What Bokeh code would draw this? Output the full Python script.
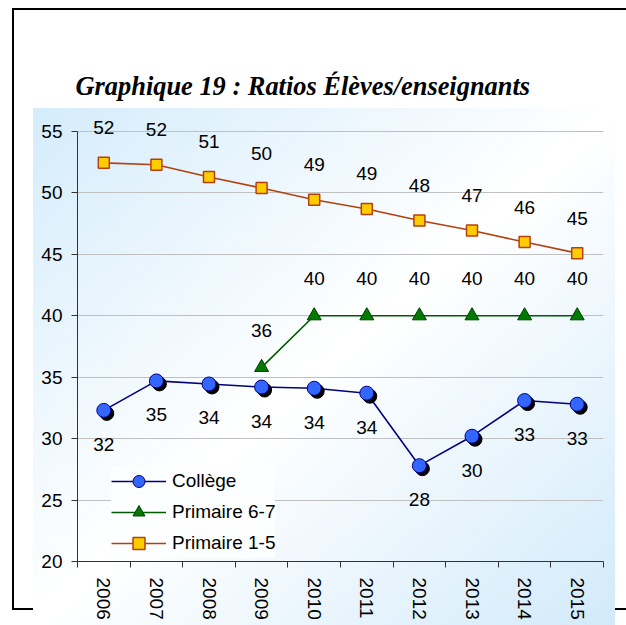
from bokeh.plotting import figure
from bokeh.models import Range1d, FixedTicker, ColumnDataSource, Legend, LegendItem
from bokeh.embed import file_html
from bokeh.resources import INLINE
from bokeh.core.properties import value

years = ["2006", "2007", "2008", "2009", "2010", "2011", "2012", "2013", "2014", "2015"]
college = [32.3, 34.7, 34.45, 34.2, 34.1, 33.7, 27.8, 30.2, 33.1, 32.8]
primaire_67_years = ["2009", "2010", "2011", "2012", "2013", "2014", "2015"]
primaire_67 = [35.8, 40.0, 40.0, 40.0, 40.0, 40.0, 40.0]
primaire_15 = [52.45, 52.3, 51.3, 50.4, 49.45, 48.7, 47.76, 46.94, 46.0, 45.1]
y_ticks = [20, 25, 30, 35, 40, 45, 50, 55]

FONT = "Liberation Sans"
FS = "19px"

def src(cats, vals):
    xs = [years.index(c) for c in cats]
    return ColumnDataSource(dict(x=xs, y=vals, lab=[f"{v:.0f}" for v in vals]))

# page decoration: light-blue gradient panel over an open black frame (top, left, bottom)
css_bg = (
    "linear-gradient(to bottom right, #D4ECFB 0%, #FFFFFF 50%, #D2EAFA 100%) 33px 108px / 582px 517px no-repeat, "
    "linear-gradient(#000000, #000000) 600px 8px / 26px 2px no-repeat, "
    "linear-gradient(#000000, #000000) 600px 608px / 26px 2px no-repeat, "
    "linear-gradient(#FFFFFF, #FFFFFF) 14px 10px / 600px 598px no-repeat, "
    "linear-gradient(#000000, #000000) 12px 8px / 596px 602px no-repeat, "
    "#FFFFFF"
)
no_scroll_css = (
    ":host { overflow: hidden !important; scrollbar-width: none !important; } "
    "* { scrollbar-width: none !important; } "
    "::-webkit-scrollbar { display: none !important; width: 0 !important; height: 0 !important; }"
)

p = figure(width=626, height=625,
           x_range=Range1d(-0.5, 9.5), y_range=Range1d(20, 56.63),
           output_backend="svg", toolbar_location=None,
           min_border_left=77, min_border_right=23, min_border_top=111, min_border_bottom=64,
           border_fill_color=None, background_fill_color=None, outline_line_color=None,
           title="Graphique 19 : Ratios Élèves/enseignants",
           styles={"background": css_bg, "overflow": "hidden"},
           stylesheets=[no_scroll_css])

p.title.text_font = "Liberation Serif"
p.title.text_font_style = "bold italic"
p.title.text_font_size = "26.4px"
p.title.text_color = "#000000"
p.title.align = "left"
p.title.offset = -2
p.title.standoff = 22

# axes
p.yaxis.ticker = FixedTicker(ticks=y_ticks)
p.yaxis.bounds = (20, 55)
p.xaxis.ticker = FixedTicker(ticks=list(range(len(years))),
                             minor_ticks=[i - 0.5 for i in range(len(years) + 1)])
p.xaxis.major_label_overrides = {i: y for i, y in enumerate(years)}
p.xaxis.major_label_orientation = "vertical"
p.xaxis.major_tick_out = 0
p.xaxis.major_tick_in = 0
p.xaxis.minor_tick_out = 6
p.xaxis.minor_tick_in = 0
p.xaxis.major_label_standoff = 10
p.yaxis.major_tick_out = 6
p.yaxis.major_tick_in = 0
p.yaxis.minor_tick_out = 0
p.yaxis.minor_tick_in = 0
p.yaxis.major_label_standoff = 9
for ax in (p.xaxis, p.yaxis):
    ax.axis_line_color = "#333333"
    ax.major_tick_line_color = "#333333"
    ax.minor_tick_line_color = "#333333"
    ax.major_label_text_font = FONT
    ax.major_label_text_font_size = FS
    ax.major_label_text_color = "#000000"

p.xgrid.visible = False
p.ygrid.grid_line_color = "#C0C0C0"
p.ygrid.grid_line_width = 1

s15 = src(years, primaire_15)
s67 = src(primaire_67_years, primaire_67)
sc = src(years, college)

# Primaire 1-5
l15 = p.line("x", "y", source=s15, line_color="#B5400F", line_width=1.6)
m15 = p.scatter("x", "y", source=s15, marker="square", size=11,
                fill_color="#FFCC00", line_color="#B5400F", line_width=1.5)
# Primaire 6-7
l67 = p.line("x", "y", source=s67, line_color="#005A00", line_width=1.6)
m67 = p.scatter("x", "y", source=s67, marker="triangle", size=14,
                fill_color="#007A00", line_color="#004000", line_width=1)
# College
lc = p.line("x", "y", source=sc, line_color="#000080", line_width=1.6)
shadow = ColumnDataSource(dict(x=[v + 0.057 for v in sc.data["x"]],
                               y=[v - 0.244 for v in sc.data["y"]]))
p.scatter("x", "y", source=shadow, marker="circle", size=14,
          fill_color="#000000", line_color="#000000")
mc = p.scatter("x", "y", source=sc, marker="circle", size=14,
               fill_color="#3366FF", line_color="#000080", line_width=1)

for s, off in ((s15, -35), (s67, -37), (sc, 34)):
    p.text("x", "y", text="lab", source=s, text_align="center", text_baseline="middle",
           y_offset=off, text_font=value(FONT), text_font_size=FS, text_color="#000000")

legend = Legend(items=[LegendItem(label="Collège", renderers=[lc, mc]),
                       LegendItem(label="Primaire 6-7", renderers=[l67, m67]),
                       LegendItem(label="Primaire 1-5", renderers=[l15, m15])],
                location=(34, 3), margin=0, padding=5, spacing=1,
                glyph_height=30, label_height=30, glyph_width=55, label_standoff=6,
                label_text_font=FONT, label_text_font_size=FS, label_text_color="#000000",
                background_fill_color="#FCFEFF", background_fill_alpha=1.0,
                border_line_color=None)
p.add_layout(legend)

open("out.html", "w").write(file_html(p, INLINE))
